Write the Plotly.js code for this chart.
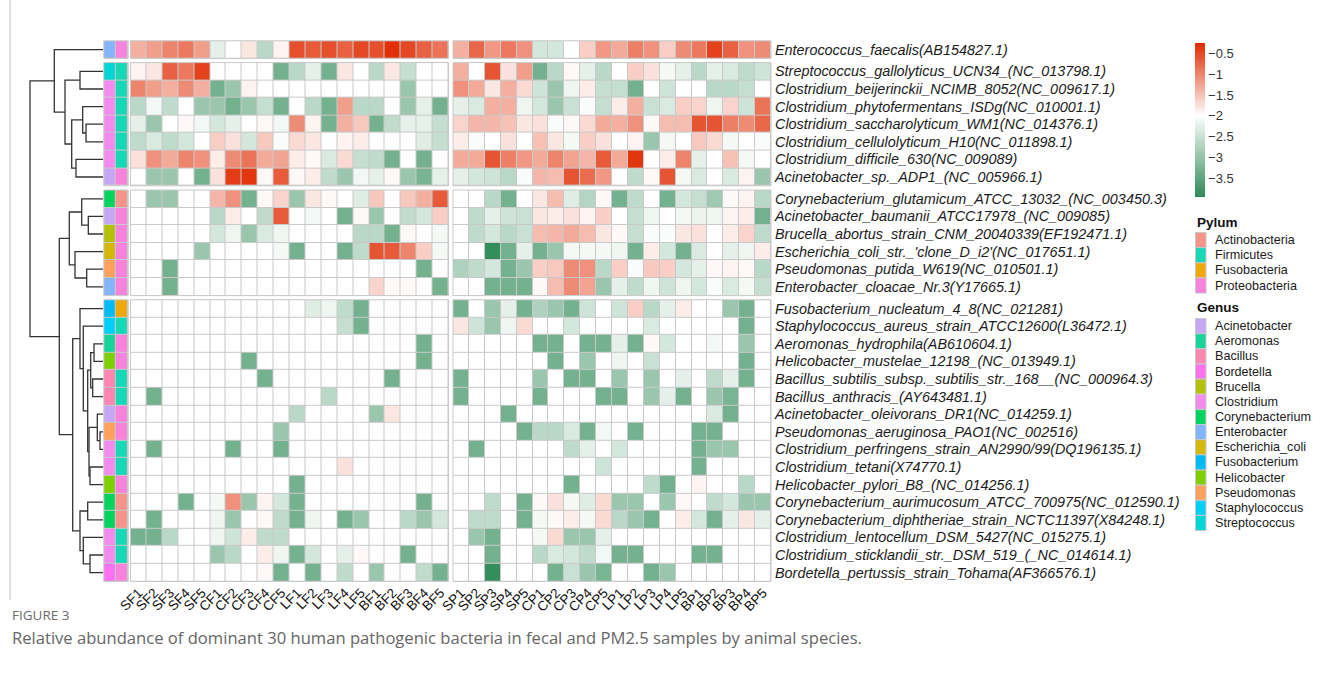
<!DOCTYPE html>
<html><head><meta charset="utf-8">
<script src="https://cdn.plot.ly/plotly-3.0.1.min.js"></script>
<style>html,body{margin:0;padding:0;background:#fff}#chart{width:1331px;height:693px}</style>
</head><body><div id="chart"></div>
<script>
// ---------------- DATA ----------------
const fecalCols = ["SF1","SF2","SF3","SF4","SF5","CF1","CF2","CF3","CF4","CF5","LF1","LF2","LF3","LF4","LF5","BF1","BF2","BF3","BF4","BF5"];
const pmCols = ["SP1","SP2","SP3","SP4","SP5","CP1","CP2","CP3","CP4","CP5","LP1","LP2","LP3","LP4","LP5","BP1","BP2","BP3","BP4","BP5"];
const rowLabels = [
"Enterococcus_faecalis(AB154827.1)",
"Streptococcus_gallolyticus_UCN34_(NC_013798.1)",
"Clostridium_beijerinckii_NCIMB_8052(NC_009617.1)",
"Clostridium_phytofermentans_ISDg(NC_010001.1)",
"Clostridium_saccharolyticum_WM1(NC_014376.1)",
"Clostridium_cellulolyticum_H10(NC_011898.1)",
"Clostridium_difficile_630(NC_009089)",
"Acinetobacter_sp._ADP1_(NC_005966.1)",
"Corynebacterium_glutamicum_ATCC_13032_(NC_003450.3)",
"Acinetobacter_baumanii_ATCC17978_(NC_009085)",
"Brucella_abortus_strain_CNM_20040339(EF192471.1)",
"Escherichia_coli_str._'clone_D_i2'(NC_017651.1)",
"Pseudomonas_putida_W619(NC_010501.1)",
"Enterobacter_cloacae_Nr.3(Y17665.1)",
"Fusobacterium_nucleatum_4_8(NC_021281)",
"Staphylococcus_aureus_strain_ATCC12600(L36472.1)",
"Aeromonas_hydrophila(AB610604.1)",
"Helicobacter_mustelae_12198_(NC_013949.1)",
"Bacillus_subtilis_subsp._subtilis_str._168__(NC_000964.3)",
"Bacillus_anthracis_(AY643481.1)",
"Acinetobacter_oleivorans_DR1(NC_014259.1)",
"Pseudomonas_aeruginosa_PAO1(NC_002516)",
"Clostridium_perfringens_strain_AN2990/99(DQ196135.1)",
"Clostridium_tetani(X74770.1)",
"Helicobacter_pylori_B8_(NC_014256.1)",
"Corynebacterium_aurimucosum_ATCC_700975(NC_012590.1)",
"Corynebacterium_diphtheriae_strain_NCTC11397(X84248.1)",
"Clostridium_lentocellum_DSM_5427(NC_015275.1)",
"Clostridium_sticklandii_str._DSM_519_(_NC_014614.1)",
"Bordetella_pertussis_strain_Tohama(AF366576.1)"];
const rowGenus = ["Enterobacter","Streptococcus","Clostridium","Clostridium","Clostridium","Clostridium","Clostridium","Acinetobacter",
"Corynebacterium","Acinetobacter","Brucella","Escherichia_coli","Pseudomonas","Enterobacter",
"Fusobacterium","Staphylococcus","Aeromonas","Helicobacter","Bacillus","Bacillus","Acinetobacter","Pseudomonas","Clostridium","Clostridium","Helicobacter","Corynebacterium","Corynebacterium","Clostridium","Clostridium","Bordetella"];
const rowPhylum = ["Proteobacteria","Firmicutes","Firmicutes","Firmicutes","Firmicutes","Firmicutes","Firmicutes","Proteobacteria",
"Actinobacteria","Proteobacteria","Proteobacteria","Proteobacteria","Proteobacteria","Proteobacteria",
"Fusobacteria","Firmicutes","Proteobacteria","Proteobacteria","Firmicutes","Firmicutes","Proteobacteria","Proteobacteria","Firmicutes","Firmicutes","Proteobacteria","Actinobacteria","Actinobacteria","Firmicutes","Firmicutes","Proteobacteria"];
const groupSizes = [1,7,6,16];

// log10 relative abundance, fecal samples (columns SF1..BF5)
const fecal = [
[-1.35,-1.2,-1.0,-0.9,-1.2,-2.25,-2,-1.8,-2.65,-1.9,-0.55,-0.65,-0.55,-0.7,-0.5,-0.55,-0.3,-0.5,-0.7,-0.85],
[-1.9,-1.8,-0.7,-0.9,-0.45,-2,-2,-2,-2,-3.3,-2.65,-2.25,-3.3,-1.8,-2,-2.65,-1.8,-2.55,-2,-2],
[-1.0,-1.2,-1.35,-1.05,-1.35,-3.3,-2.95,-1.9,-2,-2,-2,-2,-2,-2,-2,-2,-2,-2.95,-2,-2],
[-2.65,-2.12,-2.6,-2,-2.95,-2.95,-3.3,-2.95,-2.55,-3.3,-2,-2.65,-3.3,-1.2,-2.65,-2.65,-2,-2.95,-2.25,-3.3],
[-2.25,-2.95,-2,-1.95,-2.12,-2.4,-2.25,-2,-1.95,-2.12,-1.05,-1.9,-3.3,-1.35,-1.55,-3.3,-2.6,-2.25,-2.25,-2.55],
[-2.6,-2.35,-2.6,-2.4,-2,-1.6,-1.75,-2.4,-1.55,-2.05,-1.7,-1.8,-2,-1.9,-1.85,-2,-2,-2,-2.3,-2.55],
[-1.75,-1.1,-1.3,-1.0,-1.1,-1.85,-1.05,-0.85,-1.3,-1.25,-1.85,-1.95,-2.35,-1.7,-2.55,-2.6,-3.3,-2,-3.3,-2],
[-2,-2.95,-2.95,-2,-3.3,-1.75,-0.4,-0.35,-1.95,-0.65,-1.95,-1.85,-2.6,-2.95,-2.12,-2.25,-1.95,-2.95,-3.25,-2.25],
[-2,-2.95,-2.95,-2,-2,-1.4,-1.1,-3.3,-1.95,-1.65,-2.95,-1.8,-1.95,-2,-2.3,-1.55,-2,-1.55,-1.35,-0.65],
[-2,-2,-2,-2,-2,-2.65,-1.85,-2,-2.6,-0.65,-2,-2.12,-2,-3.3,-1.95,-2.95,-2,-2.6,-2.4,-1.6],
[-2,-2,-2,-2,-2,-2.4,-2.15,-2.95,-2.35,-2.15,-2,-2,-2,-2,-2.65,-2.65,-3.3,-1.95,-2,-2.1],
[-2,-2,-2,-2,-2.95,-2,-2,-2,-2,-2.1,-3.3,-2,-2,-3.3,-2.6,-0.6,-0.65,-1.0,-1.6,-2.1],
[-2,-2,-3.3,-2,-2,-2,-2,-2,-2,-2,-2,-2,-2,-2,-2,-2,-2,-2,-3.3,-2],
[-2,-2,-3.3,-2,-2,-2,-2,-2,-2,-2,-2,-2,-2,-2,-2,-1.65,-1.95,-1.95,-2,-3.3],
[-2,-2,-2,-2,-2,-2,-2,-2,-2,-2,-2,-2.3,-2.15,-2.6,-3.3,-2,-2,-2,-2,-2],
[-2,-2,-2,-2,-2,-2,-2,-2,-2,-2,-2,-2,-2,-2.55,-3.3,-2,-2,-2,-2,-2],
[-2,-2,-2,-2,-2,-2,-2,-2,-2,-2,-2,-2,-2,-2,-2,-2,-2,-2,-3.3,-2],
[-2,-2,-2,-2,-2,-2,-2,-3.3,-2,-2,-2,-2,-2,-2,-2,-2,-2,-2,-3.3,-2],
[-2,-2,-2,-2,-2,-2,-2,-2,-3.3,-2,-2,-2,-2,-2,-2,-2,-3.3,-2,-2,-2],
[-2,-3.3,-2,-2,-2,-2,-2,-2,-2,-2,-2,-2,-2.65,-2,-2,-2,-2,-2,-2,-2],
[-2,-2,-2,-2,-2,-2,-2,-2,-2,-2,-2.65,-2,-2,-2,-2,-2.95,-1.8,-2,-2,-2],
[-2,-2,-2,-2,-2,-2,-2,-2,-2,-2.95,-2,-2,-2,-2,-2,-2,-2,-2,-2,-2],
[-2,-3.3,-2,-2,-2,-2,-3.3,-2,-2,-3.3,-2,-2,-2,-2,-2,-2,-2,-2,-2,-2],
[-2,-2,-2,-2,-2,-2,-2,-2,-2,-2,-2,-2,-2,-1.75,-2,-2,-2,-2,-2,-2],
[-2,-2,-2,-2,-2,-2,-2,-2,-2,-2,-3.3,-2,-2,-2,-2,-2,-2,-2,-2,-2],
[-2,-2,-2,-3.3,-2,-2.1,-1.1,-2.95,-1.9,-2.4,-3.3,-2,-2,-2,-2,-2,-2,-2,-3.3,-2],
[-2,-3.3,-2,-2,-2,-2.15,-2.95,-2,-1.95,-2.6,-3.3,-2.15,-2,-3.3,-2.95,-2,-2,-2.65,-2.95,-2.4],
[-3.3,-3.3,-2.65,-2,-2,-2.15,-2.45,-1.85,-2.6,-2.6,-2,-2,-2,-2,-2,-2,-2,-2,-2,-2],
[-2,-2,-2,-2,-2,-2.95,-2.65,-2,-1.85,-2.15,-3.3,-2.4,-2,-2.25,-1.95,-2,-2,-3.3,-2,-2],
[-2,-2,-2,-2,-2,-2,-2,-2,-1.95,-3.3,-2,-3.3,-2,-2.6,-2.0,-2.95,-2,-2,-2.6,-3.3]];

// log10 relative abundance, PM2.5 samples (columns SP1..BP5)
const pm25 = [
[-1.35,-0.75,-1.15,-0.9,-1.1,-2.4,-2.4,-2,-1.6,-1.15,-1.3,-0.95,-1.1,-1.6,-1.05,-0.9,-0.45,-0.7,-1.1,-1.05],
[-1.35,-2,-0.6,-1.75,-1.2,-3.3,-2.65,-1.95,-2.25,-2.65,-2,-1.6,-1.75,-2.1,-2.25,-2.65,-2.25,-2.35,-2.6,-2.45],
[-1.1,-1.3,-1.8,-1.35,-1.7,-2.45,-2.95,-2.15,-1.85,-2.55,-2.55,-3.3,-2,-2.45,-2,-2,-2.65,-2.65,-2.55,-2],
[-2.25,-2.35,-1.35,-1.35,-2.15,-2.4,-2.95,-2.5,-2.05,-2.55,-1.85,-1.35,-2.5,-2.35,-1.6,-1.65,-2.15,-1.65,-2.45,-0.85],
[-1.65,-1.4,-1.4,-1.5,-1.8,-1.75,-2.05,-1.95,-1.7,-1.3,-1.35,-1.1,-1.95,-1.45,-1.45,-0.6,-0.6,-0.95,-1.05,-0.75],
[-1.85,-2.05,-2,-1.75,-2,-1.5,-1.8,-2.1,-1.6,-1.75,-2,-1.9,-2.95,-2.1,-2,-1.55,-1.7,-2.1,-2,-2.05],
[-1.3,-1.3,-0.6,-0.95,-1.15,-1.3,-1.0,-1.25,-1.4,-0.65,-1.3,-0.35,-2,-1.85,-1.0,-2.25,-2,-1.5,-2.1,-2],
[-2.25,-2.4,-2.45,-2.65,-2.05,-1.4,-1.45,-0.6,-0.8,-1.15,-2,-2.6,-1.95,-0.6,-2.1,-2.35,-2,-2.35,-1.9,-2.95],
[-2,-2,-2.65,-3.3,-2,-1.8,-1.45,-2.3,-2.7,-1.95,-3.3,-2.6,-2,-3.3,-2.4,-2.55,-2.9,-1.95,-1.9,-2.65],
[-2,-2.6,-2.25,-2.45,-2.5,-1.8,-1.85,-1.75,-1.9,-1.6,-2,-2.55,-2.15,-2,-2.1,-2.2,-2.15,-1.9,-1.85,-3.3],
[-2,-2.6,-2.4,-2.65,-2.5,-1.45,-1.4,-1.3,-1.45,-1.8,-1.95,-2.55,-2.05,-2.05,-1.8,-1.75,-2,-1.85,-1.65,-2.6],
[-2,-2,-3.9,-3.3,-2.25,-3.3,-2.95,-2.1,-2.1,-2.1,-2.15,-3.3,-1.85,-2.4,-3.3,-2.35,-2,-2.25,-2.15,-1.85],
[-2.75,-2.6,-2.4,-3.3,-2.95,-1.6,-1.55,-1.05,-1.1,-2.65,-1.6,-2.05,-1.55,-1.6,-2.4,-2.25,-1.95,-1.9,-1.95,-2.65],
[-2,-2,-3.3,-3.3,-3.3,-1.95,-1.45,-1.05,-1.25,-2.95,-2.25,-2.6,-2.15,-2.45,-2.15,-2.4,-2.05,-2.35,-2.1,-2.55],
[-3.3,-2,-2.95,-2.25,-3.3,-2.75,-2.95,-3.3,-2.45,-2,-2.45,-1.6,-2.65,-2.25,-1.85,-2,-2,-2.95,-3.3,-2],
[-1.8,-2.45,-2.95,-2.15,-1.7,-2,-2,-2.4,-2,-2,-2,-2,-2.35,-2,-2,-2,-2,-2,-3.3,-2],
[-2,-2,-2,-2,-2,-3.3,-3.3,-2,-3.3,-3.3,-2.25,-3.3,-1.95,-2.4,-2,-2,-2.12,-2,-2.95,-2],
[-2,-2,-2,-2,-2,-2,-3.3,-2,-2.95,-2,-2.15,-2,-2.5,-2,-2,-2,-2,-2,-3.3,-2],
[-3.3,-2,-2,-2,-2,-2.95,-2,-3.3,-3.3,-2,-2.95,-2,-2.95,-2,-2.25,-2,-2.6,-2.25,-3.3,-2],
[-3.3,-2,-2,-2,-2,-3.3,-2,-2,-2,-3.3,-3.3,-2,-2.95,-2.25,-3.3,-2,-2.95,-3.25,-2,-2],
[-2,-2,-2,-3.3,-2,-2,-2,-2,-2,-2,-2,-2,-2,-2,-2,-2,-2.35,-3.3,-2,-2],
[-2,-2,-2,-2,-3.3,-2.65,-2.65,-2.35,-3.3,-2.12,-2,-3.3,-2,-2,-2,-3.3,-3.3,-2,-2,-2],
[-2,-3.3,-2,-2,-2,-2,-2,-2.6,-2.25,-2,-2.4,-2,-2,-2,-2,-3.3,-2.95,-2.95,-2,-2],
[-2,-2,-2,-2,-2,-2,-2,-2,-2,-2.45,-2,-2,-2,-2,-2,-3.3,-2,-2,-2,-2],
[-2,-2,-2,-2,-2,-2,-2,-3.3,-2,-2,-2,-2,-2.6,-3.3,-2,-1.9,-2,-2,-2.65,-2],
[-2,-2,-2.6,-2,-3.3,-1.95,-1.75,-2.1,-2.3,-1.7,-2.95,-2.95,-2,-2.95,-1.95,-2,-2.6,-2.4,-2.95,-2.95],
[-2,-2.6,-2.6,-2,-3.3,-2.1,-1.95,-1.85,-2.1,-1.7,-2.65,-2.95,-3.3,-2,-1.85,-2.4,-3.3,-2.25,-1.8,-2.25],
[-2,-2.95,-3.3,-2,-2,-2.1,-1.7,-2.95,-2.95,-2.25,-2,-2,-2,-2,-2,-2,-2,-2,-2,-2],
[-2,-2,-3.3,-2,-2,-2.65,-2.35,-2.4,-2.6,-2.12,-3.3,-3.3,-2,-2,-2,-3.3,-3.3,-2,-2,-2],
[-2,-2,-3.9,-2,-2,-2,-3.3,-2.5,-2.95,-3.25,-2,-2,-3.3,-2.95,-2,-2,-2,-2,-2,-2]];

const phylumNames = ["Actinobacteria","Firmicutes","Fusobacteria","Proteobacteria"];
const phylumColors = ["#F6938B","#17D8B6","#EFA80A","#F982DD"];
const genusNames = ["Acinetobacter","Aeromonas","Bacillus","Bordetella","Brucella","Clostridium","Corynebacterium","Enterobacter","Escherichia_coli","Fusobacterium","Helicobacter","Pseudomonas","Staphylococcus","Streptococcus"];
const genusColors = ["#C6A7F5","#19D49A","#FB86B0","#FA72F0","#B3C10A","#F38BEE","#05D35F","#86B4FA","#D4B70A","#00BBF4","#7FCF05","#FFA15C","#00D0F8","#00D6D6"];

// row dendrogram (hclust-style merge list: negative = leaf row number, positive = earlier merge; then height)
const dendroMerges = [
[-5,-6,17],[-4,1,20.3],[-7,-8,27],[2,3,31.3],[-2,-3,23],[5,4,38],[-1,6,48.7],
[-10,-11,14.7],[-9,8,21.3],[-13,-14,16.3],[-12,10,28],[9,11,33.7],
[-17,-18,9],[-19,-20,10.3],[13,14,12.3],[-22,-23,3],[-21,16,5.7],[-24,-25,13],[17,18,14],[15,19,15.3],
[-16,20,19.7],[-15,21,23],[-26,-27,15.3],[-29,-30,13],[-28,24,19.7],[23,25,23],[22,26,30.3],
[12,27,43.7],[7,28,73]];

// ---------------- LAYOUT GEOMETRY ----------------
const W=1331, H=693;
const rowH=17.6, gapPx=4.2, topPx=40.8;
const fx = p => p/W, fy = p => 1 - p/H;
const FONT = "Liberation Sans, Arial, sans-serif";
const gridGray = "#c9c9c9";

const traces=[], shapes=[], annotations=[];
const colAxis = cols => ({anchor:"y4", tickangle:-45, ticks:"", showgrid:false, zeroline:false,
  tickmode:"array", tickvals:cols, ticktext:cols, tickfont:{size:13.5, color:"#111", family:FONT}});
const layout = {
  width:W, height:H, margin:{l:0,r:0,t:0,b:0}, paper_bgcolor:"#fff", plot_bgcolor:"rgba(0,0,0,0)",
  font:{family:FONT, color:"#222"}, showlegend:false,
  coloraxis:{
    colorscale:[[0,"#2E8B57"],[(-2+3.95)/3.7,"#FFFFFF"],[1,"#E02A00"]],
    cmin:-3.95, cmax:-0.25,
    colorbar:{x:fx(1195), xanchor:"left", y:fy(43), yanchor:"top", len:154, lenmode:"pixels",
      thickness:10, thicknessmode:"pixels", outlinewidth:0, xpad:0, ypad:0,
      tickvals:[-0.5,-1,-1.5,-2,-2.5,-3,-3.5], ticks:"", tickfont:{size:13, color:"#333", family:FONT}}
  },
  xaxis:{domain:[fx(103.8),fx(128.2)], anchor:"y4", showticklabels:false, showgrid:false, zeroline:false, ticks:""},
  xaxis2:Object.assign({domain:[fx(130.5),fx(448.5)]}, colAxis(fecalCols)),
  xaxis3:Object.assign({domain:[fx(453),fx(771)]}, colAxis(pmCols)),
  xaxis4:{domain:[fx(29),fx(103.5)], range:[74,-0.5], anchor:"y5", visible:false},
  shapes, annotations
};

// discrete palette for the annotation columns
const annColors = genusColors.concat(phylumColors);
const annScale = [];
annColors.forEach((c,k)=>{ annScale.push([k/annColors.length,c]); annScale.push([(k+1)/annColors.length,c]); });

let start=0;
const groupOfRow=[];
groupSizes.forEach((n,g)=>{
  const top = topPx + start*rowH + g*gapPx, bot = top + n*rowH;
  const yName = g===0 ? "y" : "y"+(g+1);
  const yKey = g===0 ? "yaxis" : "yaxis"+(g+1);
  const rows = Array.from({length:n},(_,i)=>start+i);
  rows.forEach(()=>groupOfRow.push(g));
  const ys = rows.map((_,i)=>i);
  layout[yKey] = {domain:[fy(bot),fy(top)], range:[n-0.5,-0.5], anchor:"x3", side:"right",
    tickvals:ys, ticktext:rows.map(r=>rowLabels[r]), ticks:"", showgrid:false, zeroline:false,
    ticklabelstandoff:3,
    tickfont:{size:14.4, color:"#1a1a1a", family:FONT, style:"italic"}};
  traces.push({type:"heatmap", x:fecalCols, y:ys, z:rows.map(r=>fecal[r]), coloraxis:"coloraxis",
    xgap:1, ygap:1, xaxis:"x2", yaxis:yName, hovertemplate:"%{x}<br>%{z}<extra></extra>"});
  traces.push({type:"heatmap", x:pmCols, y:ys, z:rows.map(r=>pm25[r]), coloraxis:"coloraxis",
    xgap:1, ygap:1, xaxis:"x3", yaxis:yName, hovertemplate:"%{x}<br>%{z}<extra></extra>"});
  traces.push({type:"heatmap", x:["Genus","Pylum"], y:ys,
    z:rows.map(r=>[genusNames.indexOf(rowGenus[r]), genusNames.length+phylumNames.indexOf(rowPhylum[r])]),
    colorscale:annScale, zmin:-0.5, zmax:annColors.length-0.5, showscale:false,
    xgap:1, ygap:1, xaxis:"x", yaxis:yName, hoverinfo:"skip"});
  ["x","x2","x3"].forEach(xa=>{
    shapes.push({type:"rect", xref:xa+" domain", yref:yName+" domain", x0:0,x1:1,y0:0,y1:1,
      fillcolor:gridGray, line:{width:0}, layer:"below"});
    shapes.push({type:"rect", xref:xa+" domain", yref:yName+" domain", x0:0,x1:1,y0:0,y1:1,
      fillcolor:"rgba(0,0,0,0)", line:{width:1,color:gridGray}, layer:"above"});
  });
  start += n;
});

// dendrogram
const nRows = rowLabels.length, gapU = gapPx/rowH;
const leafPos = r => r + 0.5 + groupOfRow[r]*gapU;
layout.yaxis5 = {domain:[fy(topPx + nRows*rowH + 3*gapPx), fy(topPx)], range:[nRows+3*gapU,0], anchor:"x4", visible:false};
const nodes=[], dx=[], dy=[];
const child = c => c<0 ? {pos:leafPos(-c-1), h:0} : nodes[c-1];
dendroMerges.forEach(([a,b,h])=>{
  const A=child(a), B=child(b);
  dx.push(A.h,h,h,B.h,null); dy.push(A.pos,A.pos,B.pos,B.pos,null);
  nodes.push({pos:(A.pos+B.pos)/2, h});
});
traces.push({type:"scatter", mode:"lines", x:dx, y:dy, xaxis:"x4", yaxis:"y5",
  line:{color:"#333", width:1.3}, hoverinfo:"skip", cliponaxis:false});

// annotation legends
function legendBlock(title, names, colors, titleY, firstTop){
  annotations.push({xref:"paper", yref:"paper", x:fx(1195), y:fy(titleY), xanchor:"left", yanchor:"middle",
    text:"<b>"+title+"</b>", showarrow:false, font:{size:13.5, color:"#111", family:FONT}});
  names.forEach((nm,i)=>{
    const t = firstTop + i*15.15;
    shapes.push({type:"rect", xref:"paper", yref:"paper", x0:fx(1195.5), x1:fx(1206), y0:fy(t+15.15), y1:fy(t),
      fillcolor:colors[i], line:{color:gridGray, width:1}});
    annotations.push({xref:"paper", yref:"paper", x:fx(1213), y:fy(t+7.6), xanchor:"left", yanchor:"middle",
      text:nm, showarrow:false, font:{size:12.6, color:"#1a1a1a", family:FONT}});
  });
}
legendBlock("Pylum", phylumNames, phylumColors, 222, 232.5);
legendBlock("Genus", genusNames, genusColors, 307, 318.5);

// frame and caption
shapes.push({type:"line", xref:"paper", yref:"paper", x0:fx(10), x1:fx(10), y0:fy(0), y1:fy(600), line:{color:"#bdbdbd", width:1}});
annotations.push({xref:"paper", yref:"paper", x:fx(10), y:fy(615), xanchor:"left", yanchor:"middle", showarrow:false,
  text:"FIGURE 3", font:{size:13.5, color:"#6b6b6b", family:"Open Sans, sans-serif"}});
annotations.push({xref:"paper", yref:"paper", x:fx(10), y:fy(637), xanchor:"left", yanchor:"middle", showarrow:false,
  text:"Relative abundance of dominant 30 human pathogenic bacteria in fecal and PM2.5 samples by animal species.",
  font:{size:16.6, color:"#666", family:"Open Sans, sans-serif"}});

Plotly.newPlot("chart", traces, layout, {staticPlot:true, displayModeBar:false});
</script></body></html>
